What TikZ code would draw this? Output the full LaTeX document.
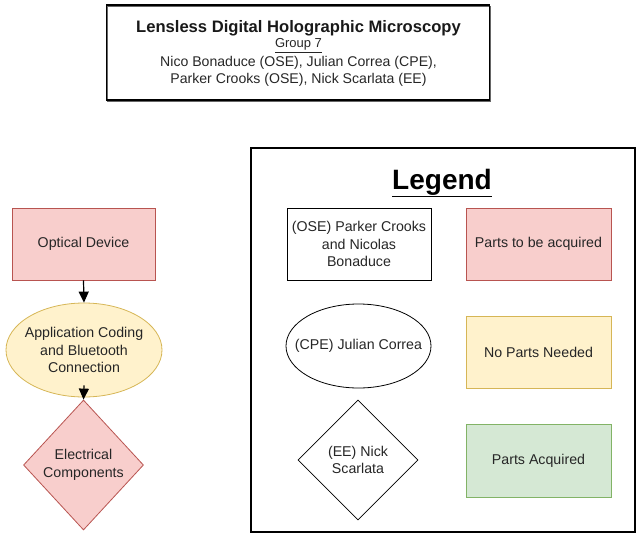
\documentclass[tikz,border=0pt]{standalone}
\usepackage{fontspec}
\setmainfont{Liberation Sans}
\usetikzlibrary{shapes.geometric,arrows.meta}
\definecolor{redfill}{HTML}{F8CECC}
\definecolor{redline}{HTML}{B85450}
\definecolor{yelfill}{HTML}{FFF2CC}
\definecolor{yelline}{HTML}{D6B656}
\definecolor{grnfill}{HTML}{D5E8D4}
\definecolor{grnline}{HTML}{82B366}
\definecolor{txt}{HTML}{262626}
\tikzset{
  lbl/.style={font=\fontsize{14.2}{17.5}\selectfont, text=txt, align=center, inner sep=0pt},
  redbox/.style={lbl, rectangle, draw=redline, fill=redfill, line width=0.8pt, minimum width=144, minimum height=72},
  yelbox/.style={lbl, rectangle, draw=yelline, fill=yelfill, line width=0.8pt, minimum width=145, minimum height=72},
  grnbox/.style={lbl, rectangle, draw=grnline, fill=grnfill, line width=0.8pt, minimum width=145, minimum height=73},
  oval/.style={ellipse, line width=0.8pt, inner sep=0pt},
  flowarrow/.style={-{Triangle[length=11pt,width=10pt]}, line width=1.2pt, black},
}
\begin{document}
\begin{tikzpicture}[x=1pt,y=-1pt]
\useasboundingbox (0,0) rectangle (636,535);
% title
\node[draw=black!60, line width=1pt, minimum width=383, minimum height=95, inner sep=0pt] (shadow) at (298.5,54) {};
\node[draw=black, line width=1.6pt, minimum width=383, minimum height=95, inner sep=0pt] (title) at (298,52.5) {};
\node[font=\fontsize{16.6}{18}\bfseries\selectfont, text=black!90, inner sep=0pt] (t1) at (298.5,28) {Lensless Digital Holographic Microscopy};
\node[lbl, font=\fontsize{13}{16}\selectfont] (t2) at (298.5,45.5) {\underline{Group 7}};
\node[lbl, font=\fontsize{14.1}{16.8}\selectfont] (t3) at (298.5,71) {Nico Bonaduce (OSE), Julian Correa (CPE),\\Parker Crooks (OSE), Nick Scarlata (EE)};
% flowchart
\node[redbox, minimum width=143] (optical) at (83.5,244) {Optical Device};
\node[oval, draw=yelline, fill=yelfill, minimum width=156, minimum height=94] (app) at (84,350) {};
\node[lbl] (apptext) at (app.center) {Application Coding\\and Bluetooth\\Connection};
\node[lbl, diamond, draw=redline, fill=redfill, line width=0.8pt, minimum width=120, minimum height=130, aspect=0.92] (elec) at (83.5,465) {Electrical\\Components};
\coordinate (appout) at ([yshift=12pt]app.south);
\draw[flowarrow] (optical.south) -- (app.north);
\draw[flowarrow] (appout) -- (elec.north);
% legend
\node[draw=black, line width=1.8pt, minimum width=384, minimum height=384, inner sep=0pt] (legendbox) at (443,340) {};
\node[font=\fontsize{28}{30}\bfseries\selectfont, inner sep=0pt] (legend) at (442,183) {\underline{Legend}};
\node[lbl, rectangle, draw=black, fill=white, line width=0.8pt, minimum width=144, minimum height=72] (ose) at (359,244) {(OSE) Parker Crooks\\and Nicolas\\Bonaduce};
\node[oval, draw=black, fill=white, minimum width=145, minimum height=84] (cpe) at (358.5,346) {};
\node[lbl] (cpetext) at (cpe.center) {(CPE) Julian Correa};
\node[lbl, diamond, draw=black, fill=white, line width=0.8pt, minimum width=120, minimum height=120] (ee) at (358,460) {(EE) Nick\\Scarlata};
\node[redbox, minimum width=145] (acq) at (538.5,244) {Parts to be acquired};
\node[yelbox] (none) at (538.5,352) {No Parts Needed};
\node[grnbox] (got) at (538.5,460.5) {Parts Acquired};
\end{tikzpicture}
\end{document}
